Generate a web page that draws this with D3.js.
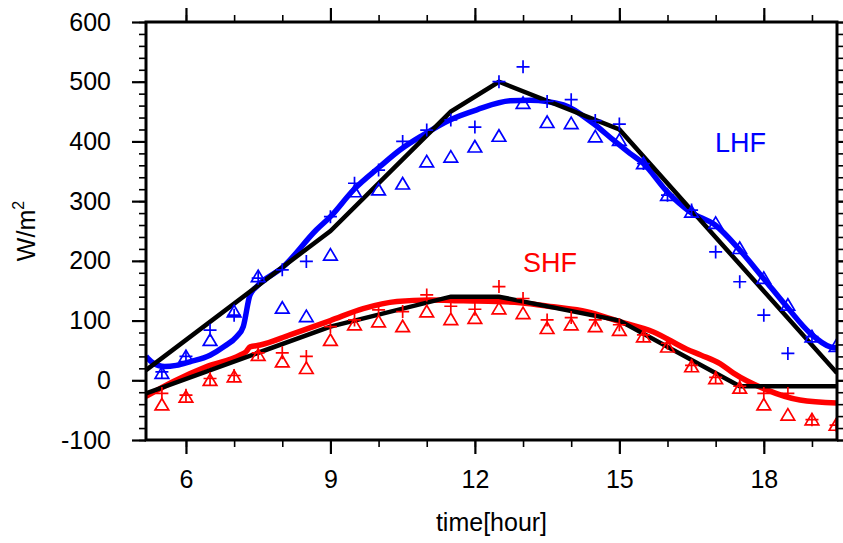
<!DOCTYPE html>
<html><head><meta charset="utf-8">
<script src="https://cdn.jsdelivr.net/npm/d3@7"></script>
<style>body{margin:0;background:#fff}svg{display:block}text{font-family:"Liberation Sans",Arial,Helvetica,sans-serif}</style>
</head><body>
<svg id="c" width="843" height="543"></svg>
<script>
// ---- data ----
const obsHours = [5.5,6,6.5,7,7.5,8,8.5,9,9.5,10,10.5,11,11.5,12,12.5,13,13.5,14,14.5,15,15.5,16,16.5,17,17.5,18,18.5,19,19.5];
const lhfPlus = [14,40,84,109,171,185,199,274,330,352,400,419,436,424,500,525,467,470,435,429,363,310,285,215,165,109,45,73,null];
const lhfTri  = [12,40,67,115,174,121,107,210,316,319,329,366,374,391,409,464,432,430,408,402,363,310,282,263,221,171,126,73,57];
const shfPlus = [-22,-25,3,8,46,46,40,90,101,118,115,143,124,119,157,137,101,105,101,93,76,62,25,5,-10,-22,-22,-66,-75];
const shfTri  = [-41,-28,0,6,42,31,20,67,93,98,90,115,102,104,120,112,87,93,90,84,73,56,23,3,-13,-41,-58,-66,-75];

const lhfSimT = [5.17,5.3,5.56,5.8,6.08,6.5,6.8,7.05,7.19,7.33,7.47,8.02,8.71,9,9.48,10.03,10.45,10.93,11.48,12.04,12.73,13.15,13.84,14.46,14.88,15.22,15.5,15.99,16.47,16.99,17.47,17.99,18.48,18.96,19.38,19.52];
const lhfSimV = [40,30,23,25,31,42,57,73,90,143,157,190,252,274,319,358,386,411,436,453,468,469,461,430,402,380,363,316,282,260,221,171,123,79,56,54];
const shfSimT = [5.17,5.74,6.43,7.12,7.25,7.33,7.54,8.16,9.0,9.68,10.38,11.07,11.76,12.45,12.94,13.63,14.32,15.02,15.71,16.4,16.7,17.09,17.37,18.06,18.75,19.52];
const shfSimV = [-27,-2,23,42,48,56,59,76,100,120,132,134.5,133,132,130,123,115,98,81,52,42,28,12,-16,-33,-38];

const lhfRefT = [5.17,9,11.5,12.5,15,19.52];
const lhfRefV = [17,250,450,500,420,12];
const shfRefT = [5.17,9,11.5,12.5,15,17.5,19.52];
const shfRefV = [-22,90,140,140,100,-10,-10];

const xMajor = [6,9,12,15,18];
const xMinor = [6,7,8,9,10,11,12,13,14,15,16,17,18,19];
const yMajor = [-100,0,100,200,300,400,500,600];
const yMinor = d3.range(-100,601,20);

// ---- layout ----
const L=146,R=837,T=22,B=440;
const x = d3.scaleLinear().domain([5.17,19.52]).range([L,R]);
const y = d3.scaleLinear().domain([-100,600]).range([B,T]);
const svg = d3.select("#c");
const FS = 25;

svg.append("defs").append("clipPath").attr("id","clip")
  .append("rect").attr("x",L).attr("y",T).attr("width",R-L).attr("height",B-T);

const zip=(t,v)=>t.map((d,i)=>[d,v[i]]);
const lineGen = d3.line().x(d=>x(d[0])).y(d=>y(d[1]));
const smooth = d3.line().x(d=>x(d[0])).y(d=>y(d[1])).curve(d3.curveMonotoneX);

const g = svg.append("g").attr("clip-path","url(#clip)");
g.append("path").attr("d",smooth(zip(lhfSimT,lhfSimV))).attr("fill","none").attr("stroke","#0000ff").attr("stroke-width",5.5).attr("stroke-linejoin","round");
g.append("path").attr("d",smooth(zip(shfSimT,shfSimV))).attr("fill","none").attr("stroke","#ff0000").attr("stroke-width",5.5).attr("stroke-linejoin","round");
g.append("path").attr("d",lineGen(zip(lhfRefT,lhfRefV))).attr("fill","none").attr("stroke","#000").attr("stroke-width",4.5);
g.append("path").attr("d",lineGen(zip(shfRefT,shfRefV))).attr("fill","none").attr("stroke","#000").attr("stroke-width",4.5);

function plus(vals,color){
  const s=6.5;
  g.append("g").selectAll("path").data(obsHours.map((h,i)=>[h,vals[i]]).filter(d=>d[1]!=null))
   .join("path").attr("d",d=>{const cx=x(d[0]),cy=y(d[1]);return `M${cx-s},${cy}H${cx+s}M${cx},${cy-s}V${cy+s}`;})
   .attr("stroke",color).attr("stroke-width",1.7).attr("fill","none");
}
function tri(vals,color){
  const w=6.8,h=11.5;
  g.append("g").selectAll("path").data(obsHours.map((hh,i)=>[hh,vals[i]]).filter(d=>d[1]!=null))
   .join("path").attr("d",d=>{const cx=x(d[0]),cy=y(d[1]);return `M${cx},${cy-h*0.55}L${cx+w},${cy+h*0.45}L${cx-w},${cy+h*0.45}Z`;})
   .attr("stroke",color).attr("stroke-width",1.7).attr("fill","none");
}
plus(lhfPlus,"#0000ff"); tri(lhfTri,"#0000ff");
plus(shfPlus,"#ff0000"); tri(shfTri,"#ff0000");

// ---- axes ----
function ax(gen,tr,vals,size,labels){
  const a = svg.append("g").attr("transform",tr)
    .call(gen.tickValues(vals).tickSize(size).tickPadding(labels?10:0).tickFormat(labels?(d=>String(d)):()=>""));
  a.select(".domain").remove();
  a.selectAll("line").attr("stroke","#000").attr("stroke-width",size>10?2.2:1.6);
  a.selectAll("text").attr("font-size",FS).attr("fill","#000").attr("font-family","Liberation Sans, Arial, sans-serif");
  return a;
}
ax(d3.axisBottom(x),`translate(0,${B})`,xMinor,7,false);
ax(d3.axisBottom(x),`translate(0,${B})`,xMajor,14,true).selectAll("text").attr("dy","0.95em").attr("y",24);
ax(d3.axisTop(x),`translate(0,${T})`,xMinor,7,false);
ax(d3.axisTop(x),`translate(0,${T})`,xMajor,14,false);
ax(d3.axisLeft(y),`translate(${L},0)`,yMinor,7,false);
ax(d3.axisLeft(y),`translate(${L},0)`,yMajor,14,true).selectAll("text").attr("x",-35);
ax(d3.axisRight(y),`translate(${R},0)`,yMinor,7,false);
ax(d3.axisRight(y),`translate(${R},0)`,yMajor,14,false);

svg.append("rect").attr("x",L).attr("y",T).attr("width",R-L).attr("height",B-T)
  .attr("fill","none").attr("stroke","#000").attr("stroke-width",3);

// ---- titles ----
svg.append("text").attr("x",(L+R)/2).attr("y",531).attr("text-anchor","middle").attr("font-size",FS).text("time[hour]");
const yt = svg.append("text").attr("transform",`translate(35,${(T+B)/2}) rotate(-90)`).attr("text-anchor","middle").attr("font-size",FS);
yt.append("tspan").text("W/m");
yt.append("tspan").attr("font-size",16).attr("dy",-11).text("2");

svg.append("text").attr("x",715).attr("y",152).attr("font-size",27).attr("fill","#0000ff").text("LHF");
svg.append("text").attr("x",523).attr("y",272).attr("font-size",27).attr("fill","#ff0000").text("SHF");
</script>
</body></html>
